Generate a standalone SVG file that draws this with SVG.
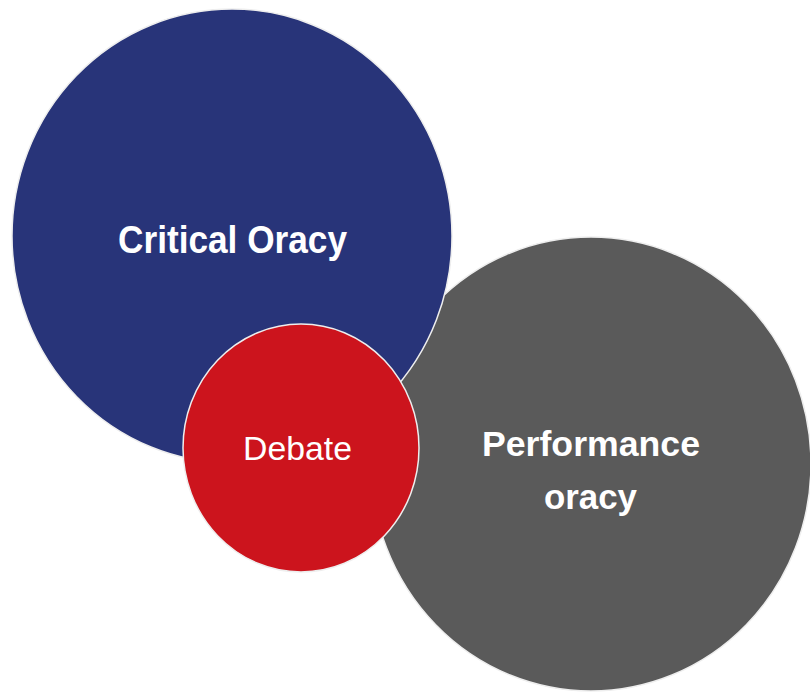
<svg xmlns="http://www.w3.org/2000/svg" width="810" height="692" viewBox="0 0 810 692">
<style>
.c{stroke:#eeeeee;stroke-width:1.5}
.t{fill:#ffffff;font-family:"Liberation Sans",Arial,sans-serif;text-anchor:middle}
.b{font-weight:bold}
</style>
<rect width="810" height="692" fill="#ffffff"/>
<g id="performance">
<ellipse class="c" cx="591" cy="464" rx="220" ry="227" fill="#5a5a5a"/>
<text class="t b" x="591" y="456" font-size="35" textLength="218" lengthAdjust="spacingAndGlyphs">Performance</text>
<text class="t b" x="590.5" y="509" font-size="35" textLength="93" lengthAdjust="spacingAndGlyphs">oracy</text>
</g>
<g id="critical">
<ellipse class="c" cx="232" cy="236" rx="220" ry="227" fill="#283479"/>
<text class="t b" x="232.5" y="253" font-size="38" textLength="229" lengthAdjust="spacingAndGlyphs">Critical Oracy</text>
</g>
<g id="debate">
<ellipse class="c" cx="301" cy="448" rx="118" ry="124" fill="#cc141d"/>
<text class="t" x="297.5" y="460" font-size="33" textLength="109" lengthAdjust="spacingAndGlyphs">Debate</text>
</g>
<g id="connectors"/>
</svg>
